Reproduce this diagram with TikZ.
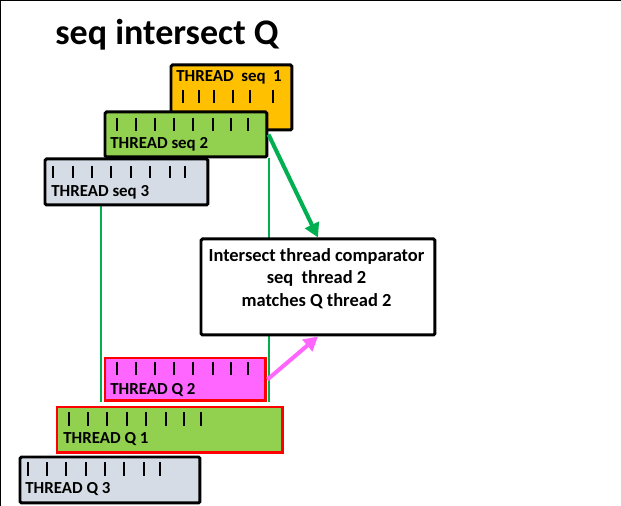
\documentclass[tikz,border=0pt]{standalone}
\usepackage{fontspec}
\setmainfont{Carlito}
\usetikzlibrary{arrows.meta,calc}
\definecolor{gold}{HTML}{FFC000}
\definecolor{leaf}{HTML}{92D050}
\definecolor{slate}{HTML}{D6DCE5}
\definecolor{orchid}{HTML}{FF66FF}
\definecolor{lime}{HTML}{00B050}
\newcommand{\tickrow}[3]{\foreach \tx in {#1} \draw[tick] (\tx,#2) -- ++(0,#3);}

\begin{document}
\begin{tikzpicture}[x=0.02cm,y=-0.02cm,font=\bfseries\fontsize{9.6}{11}\selectfont,
  thread/.style={draw,line width=1.7pt,rounded corners=0.8pt,anchor=north west,inner sep=0pt},
  qthread/.style={thread,draw=red,sharp corners},
  tick/.style={line width=1.1pt},
  lbl/.style={anchor=base west,inner sep=0pt},
  link/.style={lime,line width=0.9pt},
  pointer/.style={line width=2.3pt,-{Triangle[length=8pt,width=8.5pt]}}]
\useasboundingbox (0,0) rectangle (621,506);
\draw[line width=1.1pt] (0.5,506) -- (0.5,0.5) -- (621,0.5);
\node[lbl,font=\bfseries\fontsize{20.5}{24}\selectfont] (title) at (55,45) {seq intersect Q};
% seq threads
\node[thread,fill=gold,minimum width=2.42cm,minimum height=1.30cm] (seq1) at (169.5,63.5) {};
\node[lbl] (seq1lbl) at (176,82) {THREAD~ seq~ 1};
\tickrow{183,199,214,233,250,273}{90}{13}
\node[thread,fill=leaf,minimum width=3.24cm,minimum height=0.90cm] (seq2) at (103.5,110.5) {};
\node[lbl] (seq2lbl) at (110,149) {THREAD seq 2};
\tickrow{117,136,155,174,193,213,231,248}{118}{13}
% Q threads
\node[qthread,fill=orchid,minimum width=3.22cm,minimum height=0.86cm] (q2) at (103.5,356.5) {};
\node[lbl] (q2lbl) at (110,394) {THREAD Q 2};
\tickrow{117,136,155,174,193,213,231,248}{362}{13}
\draw[link] ([xshift=-1.4pt]seq2.south west) -- ([xshift=-1.4pt]q2.south west);
\draw[link] ([xshift=0.3pt]seq2.south east) -- ([xshift=0.3pt]seq2.south east |- q2.south);
\node[thread,fill=slate,minimum width=3.26cm,minimum height=0.92cm] (seq3) at (43.5,157.5) {};
\node[lbl] (seq3lbl) at (51,197) {THREAD seq 3};
\tickrow{53,73,92,111,131,150,170,185}{166}{12}
\node[qthread,fill=leaf,minimum width=4.52cm,minimum height=0.92cm] (q1) at (55.5,405.5) {};
\node[lbl] (q1lbl) at (63,443) {THREAD Q 1};
\tickrow{69,88,107,127,146,166,184,201}{412}{14}
\node[thread,fill=slate,minimum width=3.60cm,minimum height=0.92cm] (q3) at (18.5,455.5) {};
\node[lbl] (q3lbl) at (25,493) {THREAD Q 3};
\tickrow{28,47,66,86,105,124,144,160}{462}{14}
% comparator
\node[thread,fill=white,minimum width=4.68cm,minimum height=1.92cm] (cmp) at (199.5,237.5) {};
\node[align=center,anchor=north,inner sep=0pt,font=\bfseries\fontsize{10.5}{12.8}\selectfont] (cmptext) at (316.5,248) {Intersect thread comparator\\seq~ thread 2\\matches Q thread 2};
\draw[pointer,lime] (seq2.east) -- (cmp.north);
\draw[pointer,orchid] (q2.east) -- (cmp.south);
\end{tikzpicture}
\end{document}
